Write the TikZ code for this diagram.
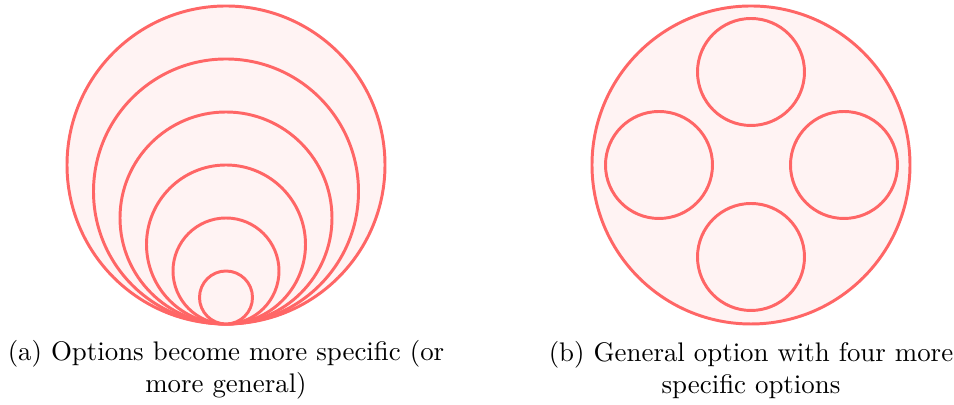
\documentclass[tikz,border=0pt]{standalone}
\definecolor{ring}{HTML}{FF6666}
\definecolor{ringfill}{HTML}{FFF3F3}
\def\pxu{0.372}
\begin{document}
\begin{tikzpicture}[x=\pxu pt,y=-\pxu pt,
  opt/.style={circle, draw=ring, fill=ringfill, line width=1.1pt, inner sep=0pt},
  captext/.style={align=center, font=\normalsize}]
\useasboundingbox (0,0) rectangle (954,405);
% (a) nested circles, tangent at bottom (226,324)
\foreach \k in {6,5,4,3,2,1}{
  \node[opt, minimum size={2*\k*26.5*\pxu pt}] (a\k) at (226,{324-\k*26.5}) {};
}
\node[captext] (capa) at (226,370) {(a) Options become more specific (or\\ more general)};
% (b) general option with four specific ones
\node[opt, minimum size={2*159*\pxu pt}] (big) at (751,165) {};
\node[opt, minimum size={2*53.5*\pxu pt}] (top) at (751,72) {};
\node[opt, minimum size={2*53.5*\pxu pt}] (bot) at (751,257) {};
\node[opt, minimum size={2*53.5*\pxu pt}] (lft) at (659,165) {};
\node[opt, minimum size={2*53.5*\pxu pt}] (rgt) at (844,165) {};
\node[captext] (capb) at (751,370) {(b) General option with four more\\ specific options};
\end{tikzpicture}
\end{document}
